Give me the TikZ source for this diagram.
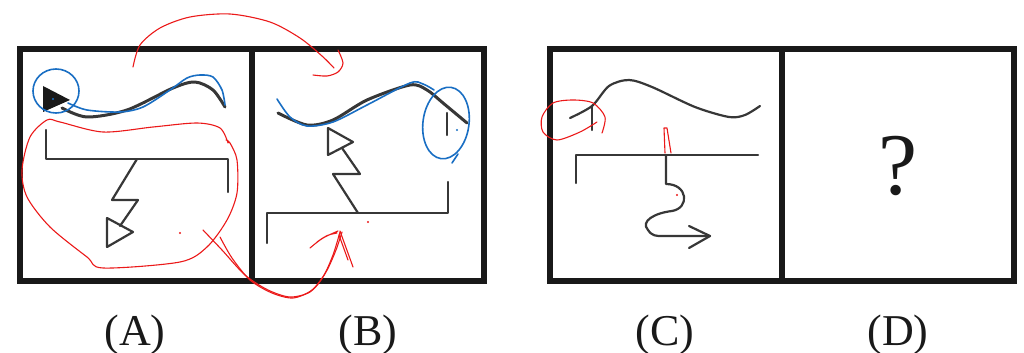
\documentclass[tikz,border=0pt]{standalone}
\usepackage{fontspec}
\setmainfont{Liberation Serif}
\usetikzlibrary{arrows.meta,calc,positioning}
\definecolor{fg}{RGB}{25,25,25}
\definecolor{ink}{RGB}{55,55,55}
\definecolor{pen}{RGB}{235,25,25}
\definecolor{hl}{RGB}{25,110,195}
\tikzset{
  every picture/.style={fg, line cap=round, line join=round},
  % Rahmen und Figuren
  frame/.style={line width=2.6pt, line cap=butt, line join=miter},
  fig/.style={ink, line width=1.1pt},
  wave/.style={ink, line width=1.5pt},
  % Anmerkungen von Hand
  redpen/.style={pen, line width=0.55pt},
  bluepen/.style={hl, line width=0.8pt},
  speck/.style={circle, inner sep=0pt, minimum size=1.2pt},
  % Beschriftung
  lbl/.style={anchor=base, font=\fontsize{22}{26}\selectfont},
  qmark/.style={anchor=base, font=\fontsize{44}{50}\selectfont},
}

\begin{document}
\begin{tikzpicture}[x=0.5pt, y=-0.5pt]
  \useasboundingbox (0,0) rectangle (1024,353);
  % Rahmen
  \draw[frame] (20,49) rectangle (484,281);
  \draw[frame] (252,49) -- (252,281);
  \draw[frame] (550,49) rectangle (1014,281);
  \draw[frame] (782,49) -- (782,281);
  % Bild A
  \fill[fg] (43,86) -- (43,112) -- (70,100) -- cycle;
  \draw[wave] plot[smooth] coordinates {(62,108) (87,117) (127,110) (173,88) (195,82) (213,90) (225,107)};
  \draw[fig] (46,130) |- (228,159) -- (228,192);
  \draw[fig] (137,159) -- (112,200) -- (138,200) -- (120,226);
  \draw[fig] (107,218) -- (107,247) -- (133,232) -- cycle;
  % Bild B
  \draw[wave] plot[smooth] coordinates {(278,113) (307,125) (333,120) (367,100) (410,85) (427,90) (443,103) (467,123)};
  \draw[fig] (447,113) -- (447,135);
  \draw[fig] (448,182) |- (267,213) -- (267,243);
  \draw[fig] (358,213) -- (333,174) -- (360,174) -- (342,148);
  \draw[fig] (328,128) -- (328,155) -- (353,142) -- cycle;
  % Bild C
  \draw[fig] plot[smooth] coordinates {(570,118) (592,106) (609,86) (629,80) (652,87) (695,107) (729,117) (745,115) (760,106)};
  \draw[fig] (592,107) -- (592,130);
  \draw[fig] (576,183) |- (758,155);
  \draw[fig] (666,155) -- (666,184) .. controls (688,184) and (690,208) .. (672,211)
    .. controls (655,213) and (640,221) .. (648,230) .. controls (652,236) and (656,236) .. (662,236) -- (710,236);
  \draw[fig] (689,226) -- (710,236) -- (689,248);
  % Anmerkungen blau
  \draw[bluepen] (56,91) ellipse (23 and 22);
  \draw[bluepen] plot[smooth] coordinates {(68,103) (87,110) (120,112) (143,107) (170,90) (187,78) (200,75) (213,77) (222,90) (225,105)};
  \draw[bluepen] plot[smooth] coordinates {(277,99) (290,117) (307,126) (333,122) (367,105) (410,83) (423,84) (434,90)};
  \draw[bluepen, rotate around={-8:(446,123)}] (446,123) ellipse (23 and 36);
  \draw[bluepen] (458,154) -- (452,163);
  \node[speck, fill=hl] (bdotA) at (53,99) {};
  \node[speck, fill=hl] (bdotB) at (457,130) {};
  % Anmerkungen rot
  \draw[redpen] plot[smooth] coordinates {(228,143) (220,128) (197,123) (153,127) (103,132) (60,122) (47,120) (30,137) (22,170) (27,197) (50,227) (87,257) (103,268) (180,262) (207,247) (227,220) (237,193) (237,160) (230,143) (226,140)};
  \draw[redpen] plot[smooth] coordinates {(133,67) (140,45) (160,28) (190,17) (230,14) (270,22) (300,38) (322,56) (334,68)};
  \draw[redpen] plot[smooth] coordinates {(338,50) (343,63) (338,72) (327,76) (313,75)};
  \draw[redpen] plot[smooth] coordinates {(203,230) (222,250) (245,275) (268,290) (290,297) (310,292) (323,277) (333,255) (340,232)};
  \draw[redpen] plot[smooth] coordinates {(220,237) (232,258) (250,280) (272,293) (293,298) (312,290) (326,272) (336,250) (342,232)};
  \draw[redpen] (310,248) .. controls (322,238) .. (338,231) (317,242) .. controls (327,235) .. (337,233);
  \draw[redpen] (353,267) -- (340,231) (348,260) -- (339,235);
  \draw[redpen] plot[smooth] coordinates {(597,122) (580,132) (557,140) (543,132) (542,117) (553,103) (573,100) (593,103) (605,117) (602,133)};
  \draw[redpen] (665,153) -- (664,128) -- (667,128) -- (671,153);
  \node[speck, fill=pen] (rdotA) at (180,233) {};
  \node[speck, fill=pen] (rdotB) at (368,222) {};
  \node[speck, fill=pen] (rdotC) at (677,195) {};
  % Beschriftung
  \node[qmark] (quest) at (898,195) {?};
  \node[lbl] (labA) at (135,345) {(A)};
  \node[lbl] (labB) at (368,345) {(B)};
  \node[lbl] (labC) at (665,345) {(C)};
  \node[lbl] (labD) at (898,345) {(D)};
\end{tikzpicture}
\end{document}
